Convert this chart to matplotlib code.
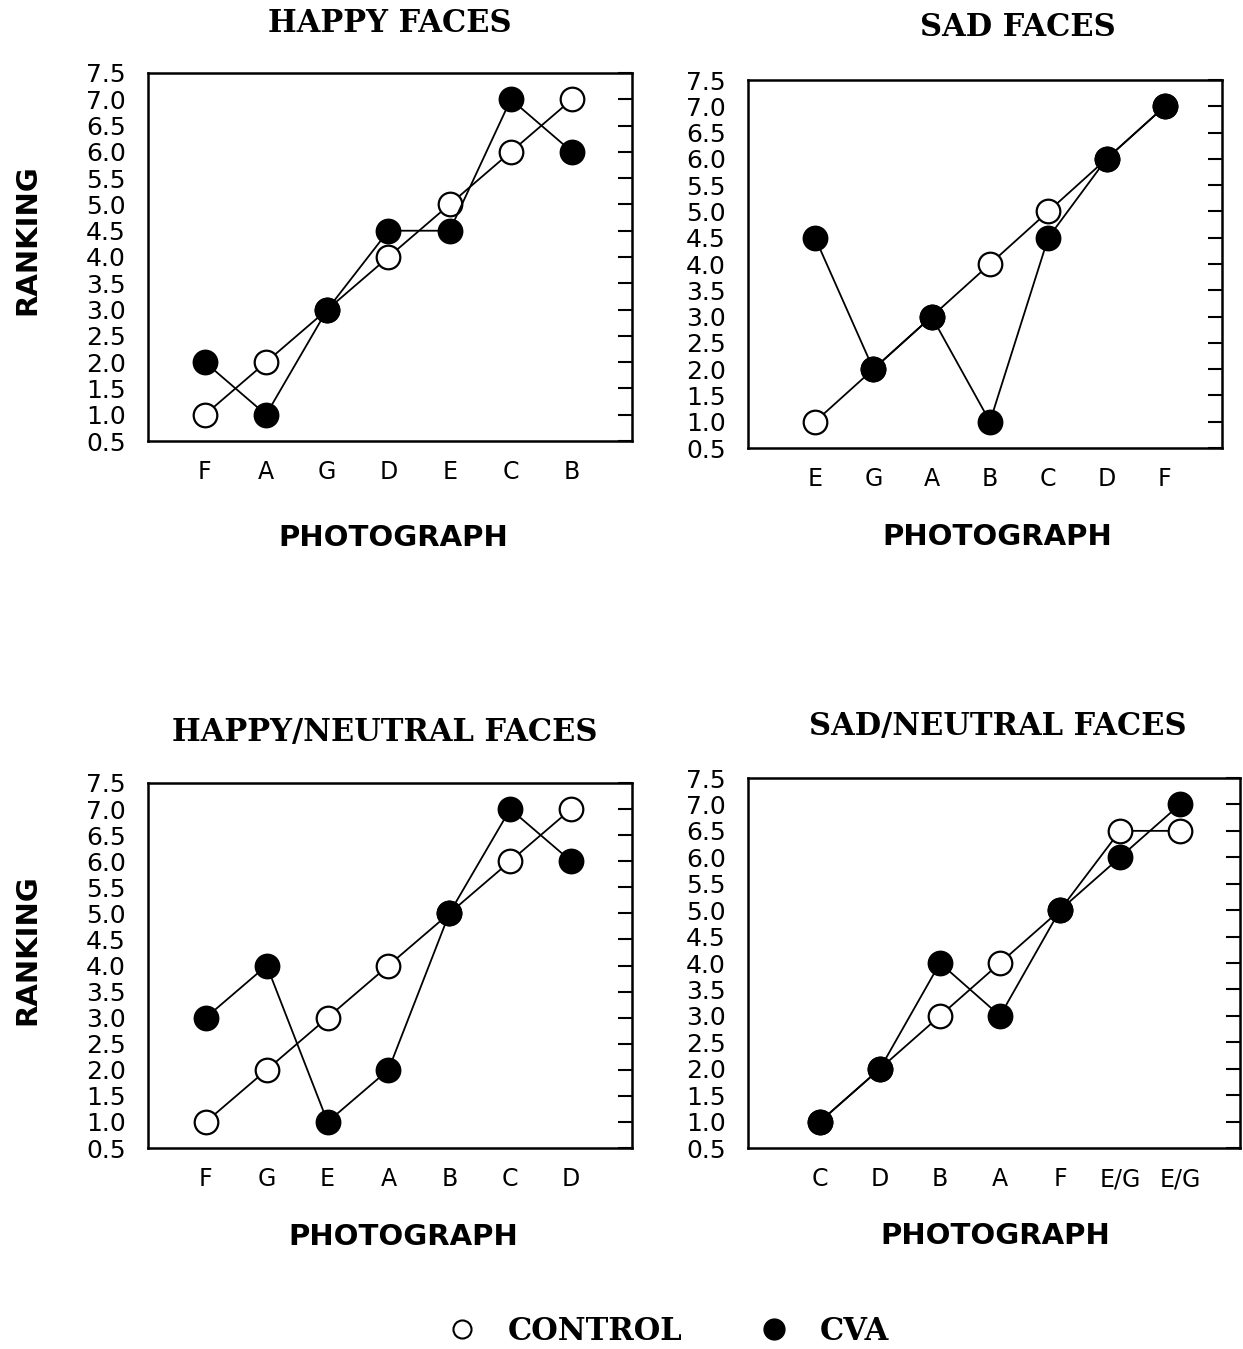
import matplotlib
matplotlib.use("Agg")
import matplotlib.pyplot as plt
from matplotlib.lines import Line2D

# panel data: photograph order on x, ranking on y
happy_labels = ['F', 'A', 'G', 'D', 'E', 'C', 'B']
happy_control = [1, 2, 3, 4, 5, 6, 7]
happy_cva = [2, 1, 3, 4.5, 4.5, 7, 6]

sad_labels = ['E', 'G', 'A', 'B', 'C', 'D', 'F']
sad_control = [1, 2, 3, 4, 5, 6, 7]
sad_cva = [4.5, 2, 3, 1, 4.5, 6, 7]

hn_labels = ['F', 'G', 'E', 'A', 'B', 'C', 'D']
hn_control = [1, 2, 3, 4, 5, 6, 7]
hn_cva = [3, 4, 1, 2, 5, 7, 6]

sn_labels = ['C', 'D', 'B', 'A', 'F', 'E/G', 'E/G']
sn_control = [1, 2, 3, 4, 5, 6.5, 6.5]
sn_cva = [1, 2, 4, 3, 5, 6, 7]

yticks = [0.5, 1.0, 1.5, 2.0, 2.5, 3.0, 3.5, 4.0, 4.5, 5.0, 5.5, 6.0, 6.5, 7.0, 7.5]

W, H = 1243, 1349
fig = plt.figure(figsize=(W / 100, H / 100), dpi=100)

SERIF = 'DejaVu Serif'
SANS = 'DejaVu Sans'


def px_axes(x0, y0, x1, y1):
    # pixel box (top-left origin) -> figure fraction
    return fig.add_axes([x0 / W, 1 - y1 / H, (x1 - x0) / W, (y1 - y0) / H])


def panel(ax, labels, control, cva, xlim):
    xs = list(range(len(labels)))
    ax.plot(xs, control, color='black', lw=1.3, marker='o', ms=17,
            mfc='white', mec='black', mew=1.6, zorder=2)
    ax.plot(xs, cva, color='black', lw=1.3, marker='o', ms=17,
            mfc='black', mec='black', mew=1.6, zorder=3)
    ax.set_xlim(*xlim)
    ax.set_ylim(0.5, 7.5)
    ax.set_xticks(xs)
    ax.set_xticklabels(labels, fontfamily=SANS, fontsize=17)
    ax.set_yticks(yticks)
    ax.set_yticklabels(['%.1f' % v for v in yticks], fontfamily=SANS, fontsize=18)
    ax.tick_params(axis='x', length=0, pad=14)
    ax.tick_params(axis='y', left=False, right=True, direction='in',
                   length=10, width=1.5, pad=16, labelleft=True)
    for s in ax.spines.values():
        s.set_linewidth(1.8)


ax1 = px_axes(148, 73, 632, 441)
panel(ax1, happy_labels, happy_control, happy_cva, (-0.93, 6.98))

ax2 = px_axes(748, 80, 1222, 448)
panel(ax2, sad_labels, sad_control, sad_cva, (-1.15, 6.98))

ax3 = px_axes(148, 783, 632, 1148)
panel(ax3, hn_labels, hn_control, hn_cva, (-0.95, 7.0))

ax4 = px_axes(748, 778, 1240, 1148)
panel(ax4, sn_labels, sn_control, sn_cva, (-1.2, 7.0))

# titles
title_kw = dict(fontfamily=SERIF, fontsize=22, fontweight='bold', ha='center', va='center')
fig.text(390 / W, 1 - 23 / H, 'HAPPY FACES', **title_kw)
fig.text(1018 / W, 1 - 27 / H, 'SAD FACES', **title_kw)
fig.text(385 / W, 1 - 733 / H, 'HAPPY/NEUTRAL FACES', **title_kw)
fig.text(998 / W, 1 - 726 / H, 'SAD/NEUTRAL FACES', **title_kw)

# axis titles
lab_kw = dict(fontfamily=SANS, fontsize=21, fontweight='bold', ha='center', va='center')
fig.text(393 / W, 1 - 538 / H, 'PHOTOGRAPH', **lab_kw)
fig.text(997 / W, 1 - 537 / H, 'PHOTOGRAPH', **lab_kw)
fig.text(403 / W, 1 - 1237 / H, 'PHOTOGRAPH', **lab_kw)
fig.text(995 / W, 1 - 1236 / H, 'PHOTOGRAPH', **lab_kw)
fig.text(27 / W, 1 - 240 / H, 'RANKING', rotation=90, **lab_kw)
fig.text(27 / W, 1 - 950 / H, 'RANKING', rotation=90, **lab_kw)

# legend
handles = [
    Line2D([], [], ls='none', marker='o', ms=13, mfc='white', mec='black', mew=1.5),
    Line2D([], [], ls='none', marker='o', ms=15, mfc='black', mec='black'),
]
fig.legend(handles, ['CONTROL', 'CVA'], loc='center', bbox_to_anchor=(660 / W, 1 - 1331 / H),
           ncol=2, frameon=False, columnspacing=2.0, handletextpad=0.5,
           prop={'family': SERIF, 'size': 22, 'weight': 'bold'})

fig.savefig('out.png', dpi=100)
